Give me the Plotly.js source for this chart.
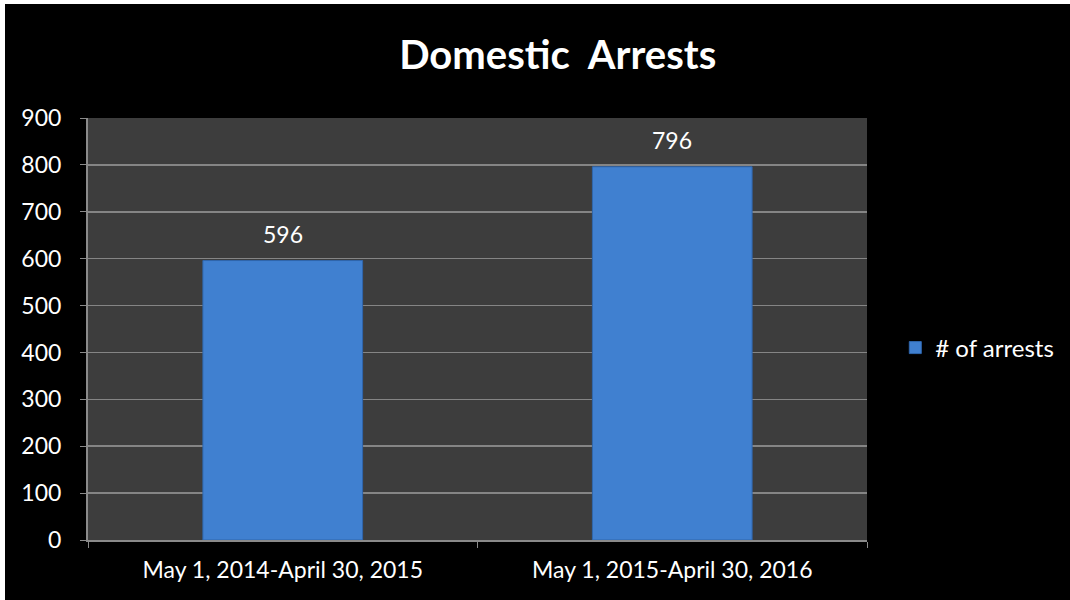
<!DOCTYPE html>
<html><head><meta charset="utf-8">
<script src="https://cdn.plot.ly/plotly-3.0.1.min.js"></script>
<style>
html,body{margin:0;padding:0;background:#ffffff;width:1070px;height:600px;overflow:hidden;}
#chart{position:absolute;left:5px;top:4px;width:1065px;height:596px;}
</style></head><body>
<div id="chart"></div>
<script>
const categories = ["May 1, 2014-April 30, 2015", "May 1, 2015-April 30, 2016"];
const arrests = [596, 796];
const seriesName = "# of arrests";
const chartTitle = "Domestic\u00a0 Arrests";

const font = "Lato, 'Open Sans', sans-serif";

const trace = {
  type: "bar",
  x: categories,
  y: arrests,
  name: seriesName,
  marker: {color: "#4080d0", line: {color: "#2f66ad", width: 1}},
  showlegend: true,
  hoverinfo: "x+y"
};

const annotations = categories.map((c, i) => ({
  x: c, y: arrests[i], xref: "x", yref: "y",
  text: String(arrests[i]), showarrow: false,
  yshift: 27, font: {family: font, size: 23, color: "#ffffff"}
}));

const layout = {
  width: 1065, height: 596,
  paper_bgcolor: "#000000",
  plot_bgcolor: "#3d3d3d",
  margin: {l: 83, r: 202, t: 114, b: 60},
  title: {text: "<b>" + chartTitle + "</b>", font: {family: font, size: 40, color: "#ffffff"},
          x: 0.519, xanchor: "center", xref: "container", y: 0.914, yanchor: "middle", yref: "container"},
  bargap: 0.59,
  xaxis: {
    type: "category", tickson: "boundaries", ticks: "outside", ticklen: 6, tickcolor: "#8a8a8a",
    showline: true, linecolor: "#8a8a8a", linewidth: 2, showgrid: false, automargin: false,
    ticklabelstandoff: 8,
    tickfont: {family: font, size: 23, color: "#ffffff"}, fixedrange: true
  },
  yaxis: {
    range: [0, 900], dtick: 100, ticks: "outside", ticklen: 6, tickcolor: "#8a8a8a",
    showline: true, linecolor: "#8a8a8a", linewidth: 2, automargin: false,
    ticklabelstandoff: 14,
    gridcolor: "#858585", gridwidth: 1.5, zeroline: false,
    tickfont: {family: font, size: 23, color: "#ffffff"}, fixedrange: true
  },
  legend: {x: 1.035, xanchor: "left", y: 0.455, yanchor: "middle",
           font: {family: font, size: 24, color: "#ffffff"}, bgcolor: "rgba(0,0,0,0)"},
  annotations: annotations
};

Plotly.newPlot("chart", [trace], layout, {displayModeBar: false, staticPlot: true});
</script>
</body></html>
